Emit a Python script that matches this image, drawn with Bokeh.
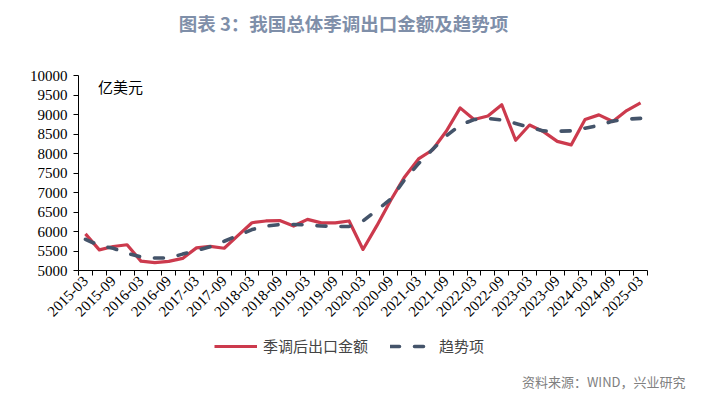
import math
from bokeh.plotting import figure
from bokeh.layouts import column
from bokeh.models import (Range1d, FixedTicker, Label, Legend, LegendItem, Title)
from bokeh.embed import file_html
from bokeh.resources import INLINE

# ---- data ----
quarters = [f"{y}-{m:02d}" for y in range(2015, 2026) for m in (3, 6, 9, 12)][:41]
seasonal_adj = [5940, 5530, 5615, 5660, 5240, 5200, 5235, 5310, 5580, 5620,
                5570, 5900, 6225, 6270, 6280, 6140, 6310, 6220, 6220, 6270,
                5540, 6150, 6800, 7400, 7860, 8090, 8570, 9170, 8870, 8960,
                9250, 8340, 8730, 8560, 8310, 8220, 8870, 8990, 8820, 9100, 9300]
trend = [5800, 5640, 5570, 5440, 5350, 5320, 5320, 5420, 5510, 5610,
         5750, 5900, 6050, 6140, 6180, 6180, 6170, 6140, 6130, 6130,
         6270, 6550, 6830, 7330, 7740, 8100, 8450, 8730, 8870, 8900,
         8860, 8770, 8670, 8580, 8570, 8580, 8650, 8720, 8830, 8880, 8900]
y_ticks = list(range(5000, 10001, 500))

series_names = ["季调后出口金额", "趋势项"]
title_text = "图表 3：我国总体季调出口金额及趋势项"
unit_text = "亿美元"
source_text = "资料来源：WIND，兴业研究"

RED = "#CC3A4D"
BLUE = "#44546A"
SERIF = "Liberation Serif"
CJK = "Noto Sans CJK SC"
RED_STYLE = dict(line_color=RED, line_width=3.2, line_join="round")
BLUE_STYLE = dict(line_color=BLUE, line_width=3.6, line_dash="9 15", line_cap="round")

idx = list(range(len(quarters)))
n = len(quarters)

LEFT, FRAME_W, RIGHT = 78, 569, 63
TITLE_H = 40


def blank(frame_h, bottom=0):
    f = figure(frame_width=FRAME_W, frame_height=frame_h, output_backend="svg",
               toolbar_location=None,
               x_range=Range1d(LEFT, LEFT + FRAME_W), y_range=Range1d(0, frame_h),
               min_border_left=LEFT, min_border_right=RIGHT,
               min_border_top=0, min_border_bottom=bottom)
    f.axis.visible = False
    f.grid.visible = False
    f.outline_line_color = None
    f.border_fill_color = "white"
    f.background_fill_color = "white"
    return f


# ---- title strip ----
t = blank(TITLE_H)
t.add_layout(Label(x=343, y=TITLE_H - 22, text=title_text, text_font=CJK,
                   text_font_size="18.5px", text_font_style="bold",
                   text_baseline="middle", text_align="center",
                   text_color="#7F8FA9"))

# ---- main chart ----
p = figure(frame_width=FRAME_W, frame_height=195, output_backend="svg",
           toolbar_location=None,
           x_range=Range1d(-0.5, n - 0.5), y_range=Range1d(5000, 10000),
           min_border_left=LEFT, min_border_right=RIGHT, min_border_top=75 - TITLE_H,
           min_border_bottom=58)
p.outline_line_color = None
p.xgrid.visible = False
p.ygrid.visible = False
p.background_fill_color = "white"
p.border_fill_color = "white"

p.line(idx, seasonal_adj, **RED_STYLE)
p.line(idx, trend, **BLUE_STYLE)

xa = p.xaxis[0]
major = idx[::2]
xa.ticker = FixedTicker(ticks=major, minor_ticks=[i - 0.5 for i in range(n + 1)])
xa.major_label_overrides = {i: quarters[i] for i in major}
xa.major_label_orientation = math.pi / 4
xa.major_tick_out = 0
xa.major_tick_in = 0
xa.minor_tick_out = 5
xa.minor_tick_in = 0
xa.axis_line_color = "black"
xa.minor_tick_line_color = "black"
xa.major_label_text_font = SERIF
xa.major_label_text_font_size = "15px"
xa.major_label_text_color = "black"
xa.major_label_standoff = 3

ya = p.yaxis[0]
ya.ticker = FixedTicker(ticks=y_ticks)
ya.minor_tick_line_color = None
ya.major_tick_out = 5
ya.major_tick_in = 0
ya.axis_line_color = "black"
ya.major_tick_line_color = "black"
ya.major_label_text_font = SERIF
ya.major_label_text_font_size = "15px"
ya.major_label_text_color = "black"
ya.major_label_standoff = 6

p.add_layout(Label(x=0.9, y=9720, text=unit_text, text_font=CJK,
                   text_font_size="15px", text_baseline="middle",
                   text_align="left", text_color="black"))

# ---- legend + source strip ----
LEG_H = 36
q = blank(LEG_H, bottom=27)
# invisible stand-ins (outside the visible range) that carry the legend styles
l1 = q.line([LEFT, LEFT + 1], [-100, -100], **RED_STYLE)
l2 = q.line([LEFT, LEFT + 1], [-100, -100], **BLUE_STYLE)
legend = Legend(items=[LegendItem(label=series_names[0], renderers=[l1]),
                       LegendItem(label=series_names[1], renderers=[l2])],
                orientation="horizontal", location=(214 - LEFT, 8),
                label_text_font=CJK, label_text_font_size="15px",
                glyph_width=43, glyph_height=20, label_standoff=6, spacing=22,
                border_line_color=None, background_fill_alpha=0,
                padding=0, margin=0)
q.add_layout(legend, "center")
q.add_layout(Title(text=source_text, align="right", offset=-38, standoff=10,
                   text_font=CJK, text_font_size="13px",
                   text_font_style="normal", text_color="#808080"), "below")

layout = column(t, p, q, spacing=0)
open("out.html", "w").write(file_html(layout, INLINE))
